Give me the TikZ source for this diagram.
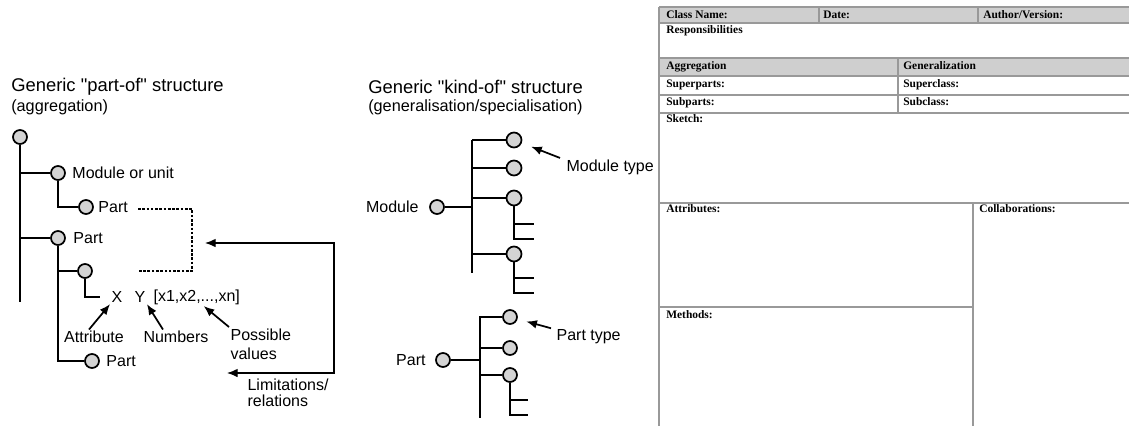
\documentclass[tikz,border=0pt]{standalone}
\usepackage{fontspec}
\setmainfont{Liberation Sans}[Ligatures=TeXOff]
\newfontfamily\formfont{Liberation Serif}
\usetikzlibrary{arrows.meta,positioning}
\newlength{\du}
\setlength{\du}{0.75pt}
\tikzset{
  knob/.style={circle, draw, fill=black!17, line width=1.3pt, minimum size=14\du, inner sep=0pt},
  stem/.style={line width=1.3pt},
  lbl/.style={font=\fontsize{12}{14}\selectfont, inner sep=1pt},
  ttl/.style={font=\fontsize{13.8}{15}\selectfont, anchor=west, inner sep=0pt},
  subttl/.style={font=\fontsize{12.2}{13}\selectfont, anchor=west, inner sep=0pt},
  pointer/.style={-{Latex[length=8pt,width=6.5pt]}, line width=1.3pt},
  twoway/.style={{Latex[length=8pt,width=6.5pt]}-{Latex[length=8pt,width=6.5pt]}, line width=1pt},
  dotbox/.style={dash pattern=on 2pt off 1.2pt, line width=0.9pt},
  formline/.style={draw=black!40, line width=1.1pt},
  formhead/.style={fill=black!19},
  formtxt/.style={font=\formfont\bfseries\fontsize{8.6}{9}\selectfont, anchor=base west, inner sep=0pt},
}

\begin{document}
\begin{tikzpicture}
\pgftransformxscale{1.000000}
\pgftransformyscale{-1.000000}
\useasboundingbox (0\du,0\du) rectangle (1129\du,426\du);

% part-of structure
\node[ttl] (aggtitle) at (11\du,87\du) {Generic "part-of" structure};
\node[subttl] (aggsub) at (11\du,107\du) {(aggregation)};
\node[knob] (root) at (20\du,137\du) {};
\node[knob] (modunit) at (58\du,173\du) {};
\node[knob] (part1) at (86\du,207\du) {};
\node[knob] (part2) at (58\du,238\du) {};
\node[knob] (attrknob) at (85\du,271\du) {};
\node[knob] (part3) at (92\du,361\du) {};
\node[lbl, right=5\du of modunit] (modunittxt) {Module or unit};
\node[lbl, right=3\du of part1] (part1txt) {Part};
\node[lbl, right=6\du of part2] (part2txt) {Part};
\node[lbl, right=5\du of part3] (part3txt) {Part};
\coordinate (rootend) at (20\du,302\du);
\draw[stem] (root) -- (rootend);
\draw[stem] (root |- modunit) -- (modunit);
\draw[stem] (root |- part2) -- (part2);
\draw[stem] (modunit) |- (part1);
\draw[stem] (part2) |- (part3);
\draw[stem] (part2 |- attrknob) -- (attrknob);
\node[lbl] (xatt) at (117\du,297\du) {X};
\node[lbl] (ynum) at (140\du,297\du) {Y};
\node[lbl, anchor=west] (vals) at (152\du,297\du) {[x1,x2,...,xn]};
\draw[stem, shorten >=10\du] (attrknob) |- (xatt);
\node[lbl] (attr) at (94\du,337\du) {Attribute};
\node[lbl] (num) at (176\du,337\du) {Numbers};
\node[lbl, anchor=north west, align=left, font=\fontsize{12}{14.2}\selectfont] (poss) at (229\du,327\du) {Possible\\values};
\draw[pointer] ([xshift=-5\du]attr.north) -- (xatt.south west);
\draw[pointer] ([xshift=-13\du]num.north) -- (ynum.south east);
\draw[pointer] (poss.north west) -- ([xshift=7\du]vals.south);
% limitations loop
\coordinate (dash1) at (138\du,209\du);
\coordinate (dashcorner) at (192\du,271\du);
\coordinate (dash2) at (138\du,271\du);
\draw[dotbox] (dash1) -| (dashcorner) -- (dash2);
\coordinate (limtip) at (205\du,243\du);
\coordinate (loopside) at (334\du,300\du);
\coordinate (reltip) at (227\du,373\du);
\draw[twoway] (limtip) -| (loopside) |- (reltip);
\node[lbl, anchor=north west, align=left, font=\fontsize{12}{12.2}\selectfont] (lim) at (246\du,377\du) {Limitations/\\relations};

% kind-of structure
\node[ttl] (kindtitle) at (368\du,87\du) {Generic "kind-of" structure};
\node[subttl] (kindsub) at (368\du,107\du) {(generalisation/specialisation)};
\node[knob] (module) at (437\du,207\du) {};
\node[lbl, left=9\du of module] (moduletxt) {Module};
\coordinate (mtop) at (472\du,140\du);
\coordinate (mbot) at (472\du,273\du);
\node[knob, minimum size=15\du] (mtype1) at (514\du,140\du) {};
\node[knob, minimum size=15\du] (mtype2) at (514\du,168\du) {};
\node[knob, minimum size=15\du] (mtype3) at (514\du,198\du) {};
\node[knob, minimum size=15\du] (mtype4) at (514\du,254\du) {};
\draw[stem] (mtop) -- (mbot);
\draw[stem] (module) -- (module -| mtop);
\foreach \k in {1,...,4}
  \draw[stem] (mtop |- mtype\k) -- (mtype\k);
\coordinate (tick3a) at (534\du,224\du);
\coordinate (tick3b) at (534\du,239\du);
\coordinate (tick4a) at (534\du,278\du);
\coordinate (tick4b) at (534\du,293\du);
\draw[stem] (mtype3) |- (tick3b);
\draw[stem] (mtype3 |- tick3a) -- (tick3a);
\draw[stem] (mtype4) |- (tick4b);
\draw[stem] (mtype4 |- tick4a) -- (tick4a);
\node[lbl, anchor=west] (mtypetxt) at (565\du,167\du) {Module type};
\draw[pointer, shorten >=10\du] ([xshift=-5\du]mtypetxt.north west) -- (mtype1);

\node[knob] (partroot) at (443\du,360\du) {};
\node[lbl, left=8\du of partroot] (parttxt) {Part};
\coordinate (ptop) at (480\du,316\du);
\coordinate (pbot) at (480\du,418\du);
\node[knob] (ptype1) at (510\du,317\du) {};
\node[knob] (ptype2) at (510\du,348\du) {};
\node[knob] (ptype3) at (510\du,375\du) {};
\draw[stem] (ptop) -- (pbot);
\draw[stem] (partroot) -- (partroot -| ptop);
\foreach \k in {1,...,3}
  \draw[stem] (ptop |- ptype\k) -- (ptype\k);
\coordinate (ptick3a) at (528\du,400\du);
\coordinate (ptick3b) at (528\du,415\du);
\draw[stem] (ptype3) |- (ptick3b);
\draw[line width=0.8pt] (ptype3 |- ptick3a) -- (ptick3a);
\node[lbl, anchor=west] (ptypetxt) at (555\du,337\du) {Part type};
\draw[pointer, shorten >=9\du] ([xshift=-4\du]ptypetxt.north west) -- (ptype1);

% class form
\fill[formhead] (659\du,7\du) rectangle (1129\du,23\du);
\fill[formhead] (659\du,58\du) rectangle (1129\du,76\du);
\foreach \y in {7,23,58,76,95,113,203}
  \draw[formline] (659\du,\y\du) -- (1129\du,\y\du);
\draw[formline] (659\du,307\du) -- (973\du,307\du);
\draw[formline] (659\du,7\du) -- (659\du,426\du);
\draw[formline] (819\du,7\du) -- (819\du,23\du);
\draw[formline] (978\du,7\du) -- (978\du,23\du);
\draw[formline] (898\du,58\du) -- (898\du,113\du);
\draw[formline] (973\du,203\du) -- (973\du,426\du);
\node[formtxt] (fclass) at (666\du,18.5\du) {Class Name:};
\node[formtxt] (fdate) at (823\du,18.5\du) {Date:};
\node[formtxt] (fauthor) at (983\du,18.5\du) {Author/Version:};
\node[formtxt] (fresp) at (666\du,33.5\du) {Responsibilities};
\node[formtxt] (faggr) at (666\du,69\du) {Aggregation};
\node[formtxt] (fgen) at (903\du,69\du) {Generalization};
\node[formtxt] (fsuperp) at (666\du,87\du) {Superparts:};
\node[formtxt] (fsuperc) at (903\du,87\du) {Superclass:};
\node[formtxt] (fsubp) at (666\du,105\du) {Subparts:};
\node[formtxt] (fsubc) at (903\du,105\du) {Subclass:};
\node[formtxt] (fsketch) at (666\du,122\du) {Sketch:};
\node[formtxt] (fattr) at (666\du,212.5\du) {Attributes:};
\node[formtxt] (fcollab) at (979\du,212.5\du) {Collaborations:};
\node[formtxt] (fmeth) at (666\du,318.5\du) {Methods:};
\end{tikzpicture}
\end{document}
